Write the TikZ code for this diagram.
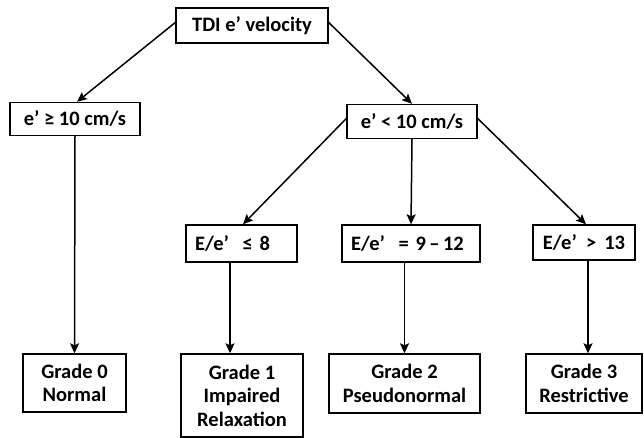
\documentclass[tikz,border=0pt]{standalone}
\usepackage{fontspec}
\setmainfont{Carlito}
\usetikzlibrary{arrows.meta}

\tikzset{
	box/.style={draw, line width=1.4pt, inner sep=0pt, align=center,
		font=\fontsize{20.5}{23.5}\selectfont\bfseries},
	leftbox/.style={box, align=left, inner xsep=9pt},
	arr/.style={line width=1.5pt, -{Stealth[length=10pt,width=9pt,inset=2pt]}},
}

\begin{document}
\begin{tikzpicture}[x=1pt,y=-1pt]% {{{ TDI grading
	\useasboundingbox (0,0) rectangle (644,438);

	\node[box, minimum width=152, minimum height=35] (tdi) at (252,25.5) {TDI e’ velocity};
	\node[box, minimum width=130, minimum height=33] (high) at (75,119) {e’ ≥ 10 cm/s};
	\node[box, minimum width=130, minimum height=34] (low) at (412,121.5) {e’ < 10 cm/s};

	\node[leftbox, text width=93, minimum height=37] (r1) at (241.5,243.5) {E/e’ \ ≤ 8};
	\node[leftbox, text width=120, minimum height=37] (r2) at (411,243.5) {E/e’ \ = 9\,–\,12};
	\node[box, minimum width=102, minimum height=35] (r3) at (584,242.5) {E/e’ \ > \,13};

	\node[box, minimum width=103, minimum height=58] (g0) at (74.5,383) {Grade 0\\Normal};
	\node[box, minimum width=122, minimum height=83] (g1) at (242,395.5) {Grade 1\\Impaired\\Relaxation};
	\node[box, minimum width=151, minimum height=59] (g2) at (404.5,383.5) {Grade 2\\Pseudonormal};
	\node[box, minimum width=116, minimum height=59] (g3) at (584,383.5) {Grade 3\\Restrictive};

	\draw[arr] ([yshift=3pt]tdi.west) -- ([xshift=2pt]high.north);
	\draw[arr] ([yshift=3pt]tdi.east) -- (low.north);

	\draw[arr] ([yshift=3pt]low.west) -- ([xshift=1.5pt]r1.north);
	\draw[arr] (low.south) -- (r2.north);
	\draw[arr] ([yshift=3pt]low.east) -- ([xshift=2pt]r3.north);

	\draw[arr] (high.south) -- (g0.north);
	\draw[arr] ([xshift=-11.5pt]r1.south) -- ([xshift=-11.5pt]r1.south |- g1.north);
	\draw[arr] (r2.south -| g2.north) -- (g2.north);
	\draw[arr] ([xshift=4pt]r3.south) -- ([xshift=4pt]r3.south |- g3.north);
\end{tikzpicture}% }}}
\end{document}
